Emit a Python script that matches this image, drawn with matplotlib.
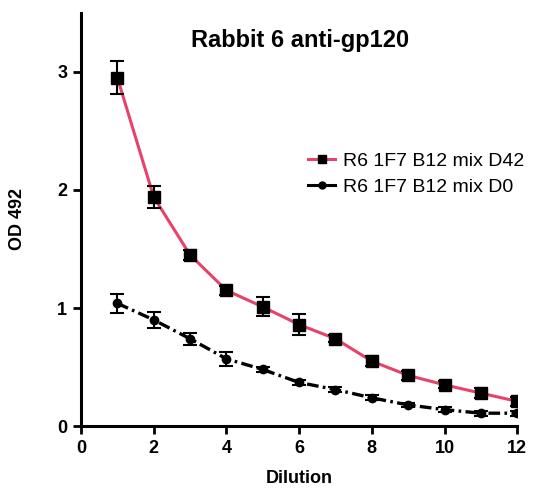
import numpy as np
import matplotlib
matplotlib.use('Agg')
import matplotlib.pyplot as plt

plt.rcParams['font.family'] = ['Liberation Sans', 'DejaVu Sans']

# dilution steps
dilution = [1, 2, 3, 4, 5, 6, 7, 8, 9, 10, 11, 12]

# R6 1F7 B12 mix D42
od_d42 = [2.95, 1.94, 1.45, 1.15, 1.01, 0.86, 0.74, 0.55, 0.43, 0.35, 0.28, 0.21]
err_d42 = [0.14, 0.09, 0.04, 0.04, 0.08, 0.09, 0.03, 0.04, 0.04, 0.03, 0.04, 0.04]

# R6 1F7 B12 mix D0
od_d0 = [1.04, 0.90, 0.74, 0.57, 0.48, 0.37, 0.31, 0.24, 0.18, 0.14, 0.11, 0.11]
err_d0 = [0.08, 0.07, 0.05, 0.06, 0.02, 0.02, 0.02, 0.02, 0.02, 0.02, 0.02, 0.02]

pink = '#e8416a'
dashdot = (0, (3.5, 1.3, 0.8, 1.3))

fig = plt.figure(figsize=(5.55, 4.91), dpi=100)
ax = fig.add_axes([0.146, 0.132, 0.786, 0.842])

ax.plot(dilution, od_d42, color=pink, lw=2.2, zorder=2)
ax.errorbar(dilution, od_d42, yerr=err_d42, fmt='s', color='black', ms=8,
            capsize=5, elinewidth=1.5, capthick=1.5, zorder=3)
ax.plot(dilution, od_d0, color='black', lw=2.4, ls=dashdot, zorder=2)
ax.errorbar(dilution, od_d0, yerr=err_d0, fmt='o', color='black', ms=6,
            capsize=5, elinewidth=1.5, capthick=1.5, zorder=3)

# legend handles
h1, = ax.plot([], [], color=pink, lw=2.2, marker='s', mfc='black', mec='black', ms=6)
h2, = ax.plot([], [], color='black', lw=2.2, marker='o', ms=5)
ax.legend([h1, h2], ['R6 1F7 B12 mix D42', 'R6 1F7 B12 mix D0'], frameon=False,
          loc='upper left', bbox_to_anchor=(0.48, 0.705), fontsize=14,
          handlelength=1.4, handletextpad=0.4, labelspacing=0.45)

ax.set_xlim(0, 12)
ax.set_ylim(0, 3.5)
ax.set_xticks([0, 2, 4, 6, 8, 10, 12])
ax.set_yticks([0, 1, 2, 3])
for s in ['top', 'right']:
    ax.spines[s].set_visible(False)
for s in ['left', 'bottom']:
    ax.spines[s].set_linewidth(2.2)
ax.spines['left'].set_bounds(0, 3.5)
ax.tick_params(direction='out', length=6, width=2, labelsize=13, pad=4)
for lab in ax.get_xticklabels() + ax.get_yticklabels():
    lab.set_fontweight('bold')

ax.set_xlabel('Dilution', fontsize=13, fontweight='bold', labelpad=9)
ax.set_ylabel('OD 492', fontsize=13, fontweight='bold', labelpad=22)
fig.text(0.54, 0.918, 'Rabbit 6 anti-gp120', fontsize=17, fontweight='bold',
         ha='center', va='center')

fig.savefig('out.png', dpi=100)
